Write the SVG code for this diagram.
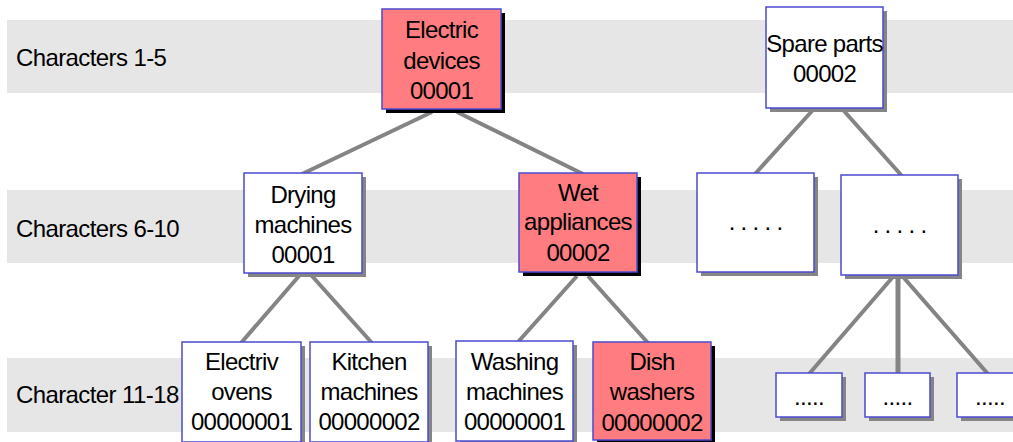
<svg xmlns="http://www.w3.org/2000/svg" width="1013" height="442" viewBox="0 0 1013 442">
<style>
.band{fill:#e6e6e6}
.lbl{font-family:"Liberation Sans",Arial,sans-serif;font-size:24px;letter-spacing:-0.6px;fill:#000}
.t{font-family:"Liberation Sans",Arial,sans-serif;font-size:24px;letter-spacing:-0.7px;fill:#000;text-anchor:middle}
.box{stroke:#4b4bd0;stroke-width:1.5}
.w{fill:#fff}
.p{fill:#ff7c80}
.sg{fill:#858585}
.sb{fill:#000}
.c line{stroke:#848484;stroke-width:4}
</style>
<rect width="1013" height="442" fill="#fff"/>
<rect class="band" x="7" y="20" width="1006" height="73"/>
<rect class="band" x="7" y="190" width="1006" height="73"/>
<rect class="band" x="7" y="358" width="1006" height="74"/>
<text class="lbl" x="16" y="66">Characters 1-5</text>
<text class="lbl" x="16" y="237">Characters 6-10</text>
<text class="lbl" x="16" y="403">Character 11-18</text>
<g class="c">
<line x1="432" y1="112" x2="302" y2="174"/>
<line x1="457" y1="112" x2="583" y2="174"/>
<line x1="812" y1="111" x2="755" y2="174"/>
<line x1="844" y1="111" x2="902" y2="176"/>
<line x1="299" y1="276" x2="241" y2="343"/>
<line x1="312" y1="276" x2="372" y2="343"/>
<line x1="577" y1="276" x2="518" y2="342"/>
<line x1="588" y1="276" x2="648" y2="343"/>
<line x1="892" y1="278" x2="809" y2="374"/>
<line x1="898" y1="278" x2="898" y2="374" style="stroke-width:5"/>
<line x1="904" y1="278" x2="988" y2="374"/>
</g>
<g id="electric-devices">
<rect class="sb" x="386" y="13" width="119" height="100"/>
<rect class="box p" x="382" y="9" width="119" height="100"/>
<text class="t" x="441.5" y="38">Electric</text>
<text class="t" x="441.5" y="69">devices</text>
<text class="t" x="441.5" y="99">00001</text>
</g>
<g id="spare-parts">
<rect class="sg" x="770" y="11" width="117" height="101"/>
<rect class="box w" x="766" y="7" width="117" height="101"/>
<text class="t" x="824.5" y="52">Spare parts</text>
<text class="t" x="824.5" y="82">00002</text>
</g>
<g id="drying-machines">
<rect class="sg" x="248" y="177" width="118" height="100"/>
<rect class="box w" x="244" y="173" width="118" height="100"/>
<text class="t" x="303" y="203">Drying</text>
<text class="t" x="303" y="233">machines</text>
<text class="t" x="303" y="263">00001</text>
</g>
<g id="wet-appliances">
<rect class="sb" x="523" y="177" width="118" height="99"/>
<rect class="box p" x="519" y="173" width="118" height="99"/>
<text class="t" x="578" y="201">Wet</text>
<text class="t" x="578" y="230">appliances</text>
<text class="t" x="578" y="261">00002</text>
</g>
<g id="dots-a">
<rect class="sg" x="701" y="177" width="117" height="99"/>
<rect class="box w" x="697" y="173" width="117" height="99"/>
<text class="t" x="755.5" y="230">. . . . .</text>
</g>
<g id="dots-b">
<rect class="sg" x="845" y="179" width="117" height="100"/>
<rect class="box w" x="841" y="175" width="117" height="100"/>
<text class="t" x="899.5" y="233">. . . . .</text>
</g>
<g id="electriv-ovens">
<rect class="sg" x="186" y="346" width="119" height="100"/>
<rect class="box w" x="182" y="342" width="119" height="100"/>
<text class="t" x="241.5" y="370">Electriv</text>
<text class="t" x="241.5" y="400">ovens</text>
<text class="t" x="241.5" y="430">00000001</text>
</g>
<g id="kitchen-machines">
<rect class="sg" x="314" y="346" width="118" height="100"/>
<rect class="box w" x="310" y="342" width="118" height="100"/>
<text class="t" x="369" y="370">Kitchen</text>
<text class="t" x="369" y="400">machines</text>
<text class="t" x="369" y="430">00000002</text>
</g>
<g id="washing-machines">
<rect class="sg" x="460" y="345" width="117" height="100"/>
<rect class="box w" x="456" y="341" width="117" height="100"/>
<text class="t" x="514.5" y="370">Washing</text>
<text class="t" x="514.5" y="400">machines</text>
<text class="t" x="514.5" y="430">00000001</text>
</g>
<g id="dish-washers">
<rect class="sb" x="597" y="346" width="118" height="98"/>
<rect class="box p" x="593" y="342" width="118" height="98"/>
<text class="t" x="652" y="370">Dish</text>
<text class="t" x="652" y="400">washers</text>
<text class="t" x="652" y="431">00000002</text>
</g>
<g id="leaf-1">
<rect class="sg" x="780" y="377" width="66" height="44"/>
<rect class="box w" x="776" y="373" width="66" height="44"/>
<text class="t" x="809" y="405">.....</text>
</g>
<g id="leaf-2">
<rect class="sg" x="869" y="377" width="65" height="44"/>
<rect class="box w" x="865" y="373" width="65" height="44"/>
<text class="t" x="897.5" y="405">.....</text>
</g>
<g id="leaf-3">
<rect class="sg" x="961" y="377" width="66" height="44"/>
<rect class="box w" x="957" y="373" width="66" height="44"/>
<text class="t" x="990" y="405">.....</text>
</g>
</svg>
